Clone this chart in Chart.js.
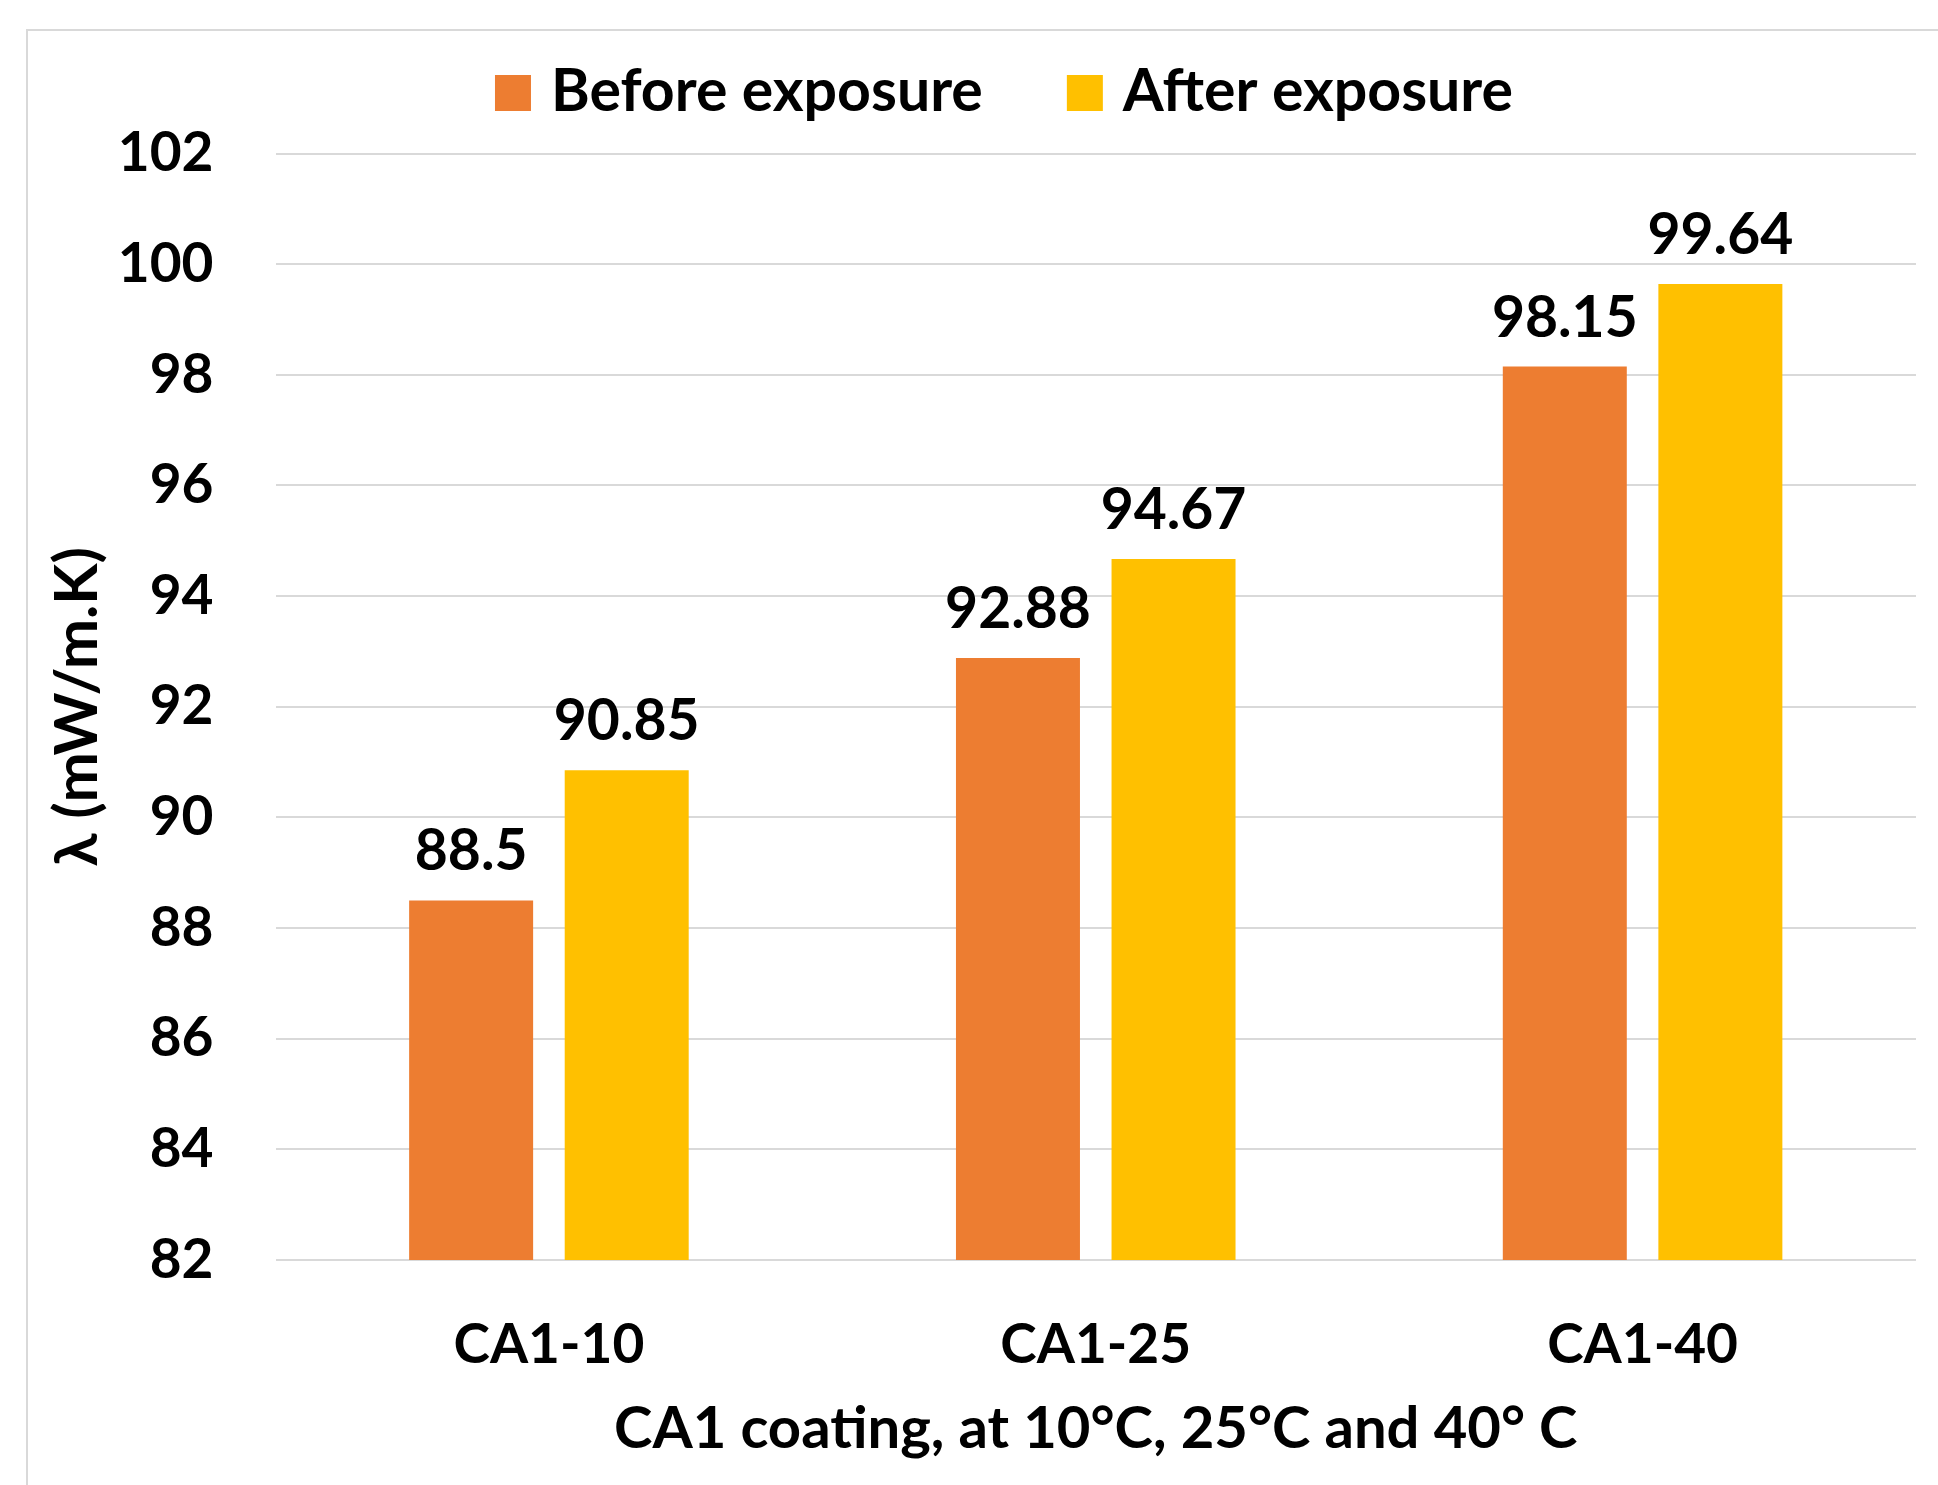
<!DOCTYPE html>
<html><head><meta charset="utf-8">
<script src="https://cdn.jsdelivr.net/npm/chart.js@4.4.1/dist/chart.umd.min.js"></script>
<style>html,body{margin:0;padding:0;background:#fff;overflow:hidden}#wrap{width:1938px;height:1485px;position:relative}</style>
</head><body><div id="wrap"><canvas id="c" width="1938" height="1485"></canvas></div>
<script>
const categories = ['CA1-10', 'CA1-25', 'CA1-40'];
const beforeExposure = [88.5, 92.88, 98.15];
const afterExposure = [90.85, 94.67, 99.64];
const seriesNames = ['Before exposure', 'After exposure'];
const seriesColors = ['#ED7D31', '#FFC000'];
const yMin = 82, yMax = 102, yStep = 2;
const xTitle = 'CA1 coating, at 10°C, 25°C and 40° C';
const yTitle = 'λ (mW/m.K)';

const FONT = 'Lato';
const FS = 55;
const LABEL_GAP = 30;

const framePlugin = {
  id: 'frame',
  beforeDraw(chart) {
    const ctx = chart.ctx;
    ctx.save();
    ctx.fillStyle = '#ffffff';
    ctx.fillRect(0, 0, chart.width, chart.height);
    ctx.strokeStyle = '#d9d9d9';
    ctx.lineWidth = 2;
    ctx.strokeRect(27, 30, chart.width + 10, chart.height + 10);
    ctx.restore();
  }
};

// Legend drawn from the datasets (labels + colours), laid out like the original
const legendPlugin = {
  id: 'topLegend',
  afterDraw(chart) {
    const ctx = chart.ctx;
    const box = 36, gapText = 20, gapItem = 84, centerX = 1004, boxTop = 75, baseline = 111;
    ctx.save();
    ctx.font = 'bold 59px ' + FONT;
    ctx.textBaseline = 'alphabetic';
    ctx.textAlign = 'left';
    const items = chart.data.datasets.map(ds => ({ text: ds.label, color: ds.backgroundColor, w: ctx.measureText(ds.label).width }));
    let total = 0;
    items.forEach((it, i) => { total += box + gapText + it.w + (i < items.length - 1 ? gapItem : 0); });
    let x = centerX - total / 2;
    items.forEach(it => {
      ctx.fillStyle = it.color;
      ctx.fillRect(x, boxTop, box, box);
      ctx.fillStyle = '#000';
      ctx.fillText(it.text, x + box + gapText, baseline);
      x += box + gapText + it.w + gapItem;
    });
    ctx.restore();
  }
};

const valueLabels = {
  id: 'valueLabels',
  afterDatasetsDraw(chart) {
    const ctx = chart.ctx;
    ctx.save();
    ctx.font = 'bold 57px ' + FONT;
    ctx.fillStyle = '#000';
    ctx.textAlign = 'center';
    ctx.textBaseline = 'alphabetic';
    chart.data.datasets.forEach((ds, i) => {
      chart.getDatasetMeta(i).data.forEach((bar, j) => {
        ctx.fillText(String(ds.data[j]), bar.x, bar.y - LABEL_GAP);
      });
    });
    ctx.restore();
  }
};

new Chart(document.getElementById('c'), {
  type: 'bar',
  data: {
    labels: categories,
    datasets: [
      { label: seriesNames[0], data: beforeExposure, backgroundColor: seriesColors[0], categoryPercentage: 0.569, barPercentage: 0.797 },
      { label: seriesNames[1], data: afterExposure, backgroundColor: seriesColors[1], categoryPercentage: 0.569, barPercentage: 0.797 }
    ]
  },
  options: {
    responsive: false,
    animation: false,
    devicePixelRatio: 1,
    layout: { padding: { top: 153.5, right: 22, bottom: 0, left: 0 } },
    plugins: {
      legend: { display: false },
      tooltip: { enabled: false }
    },
    scales: {
      x: {
        grid: { display: false, drawTicks: false },
        border: { display: false },
        ticks: { color: '#000', padding: 52, font: { family: FONT, size: FS, weight: 'bold' } },
        title: { display: true, text: xTitle, color: '#000', padding: { top: 0, bottom: 21 }, font: { family: FONT, size: 58, weight: 'bold' } },
        afterFit(s) { s.height = 225; }
      },
      y: {
        min: yMin, max: yMax,
        grid: { color: '#d9d9d9', lineWidth: 2, drawTicks: false },
        border: { display: false },
        ticks: { stepSize: yStep, color: '#000', padding: 62, font: { family: FONT, size: FS, weight: 'bold' } },
        title: { display: true, text: yTitle, color: '#000', padding: { top: 42, bottom: 0 }, font: { family: FONT, size: 60, weight: 'bold' } },
        afterFit(s) { s.width = 275.5; }
      }
    }
  },
  plugins: [framePlugin, legendPlugin, valueLabels]
});
</script></body></html>
